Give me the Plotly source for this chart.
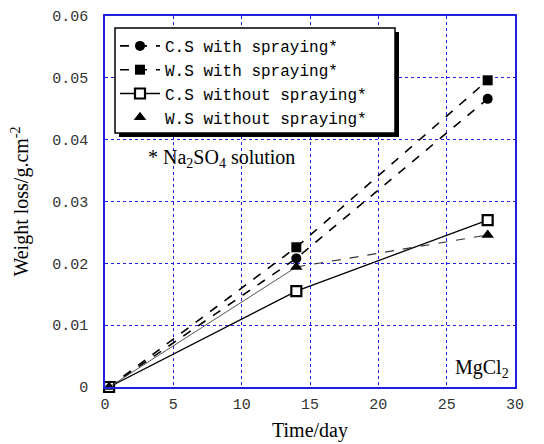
import plotly.graph_objects as go

# Exposure time (days) and weight loss (g/cm^2) for each specimen group
days = [0.3, 14, 28]
cs_spray = [0.0, 0.0208, 0.0466]
ws_spray = [0.0, 0.0226, 0.0496]
cs_nospray = [0.0, 0.0155, 0.0270]
ws_nospray = [0.0, 0.0194, 0.0246]

names = ["C.S with spraying*", "W.S with spraying*",
         "C.S without spraying*", "W.S without spraying*"]

x_ticks = [0, 5, 10, 15, 20, 25, 30]
y_ticks = [0, 0.01, 0.02, 0.03, 0.04, 0.05, 0.06]
y_tick_text = ["0", "0.01", "0.02", "0.03", "0.04", "0.05", "0.06"]

mono = "Liberation Mono"
serif = "Liberation Serif, Times New Roman, serif"
blue = "#2020e0"

W, H = 544, 444
ML, MR, MT, MB = 105, 29, 16, 57
PW, PH = W - ML - MR, H - MT - MB


def px_to_paper(px, py):
    return (px - ML) / PW, (H - MB - py) / PH


fig = go.Figure()

fig.add_trace(go.Scatter(
    x=days, y=cs_spray, name=names[0], mode="lines+markers",
    line=dict(color="black", width=1.6, dash="dash"),
    marker=dict(symbol="circle", size=10, color="black"),
    cliponaxis=False))
fig.add_trace(go.Scatter(
    x=days, y=ws_spray, name=names[1], mode="lines+markers",
    line=dict(color="black", width=1.6, dash="dash"),
    marker=dict(symbol="square", size=10, color="black"),
    cliponaxis=False))
fig.add_trace(go.Scatter(
    x=days, y=cs_nospray, name=names[2], mode="lines+markers",
    line=dict(color="black", width=1.3),
    marker=dict(symbol="square", size=10, color="white",
                line=dict(color="black", width=2.2)),
    cliponaxis=False))

# W.S without spraying: thin solid first segment, dashed second segment
fig.add_trace(go.Scatter(
    x=days[:2], y=ws_nospray[:2], mode="lines", showlegend=False,
    line=dict(color="#555", width=1)))
fig.add_trace(go.Scatter(
    x=days[1:], y=ws_nospray[1:], mode="lines", showlegend=False,
    line=dict(color="#333", width=1.1, dash="dash")))
fig.add_trace(go.Scatter(
    x=days, y=ws_nospray, name=names[3], mode="markers",
    marker=dict(symbol="triangle-up", size=11, color="black"),
    cliponaxis=False))

axis_common = dict(
    showline=True, mirror=True, linecolor=blue, linewidth=1.5,
    showgrid=True, gridcolor=blue, griddash="dot", gridwidth=1,
    zeroline=False, ticks="", automargin=False,
    tickfont=dict(family=mono, size=15, color="#333"),
)

fig.update_xaxes(
    range=[0, 30], tickvals=x_ticks, ticklabelstandoff=2,
    title=dict(text="Time/day", font=dict(family=serif, size=20, color="black"),
               standoff=10),
    **axis_common)
fig.update_yaxes(
    range=[0, 0.06], tickvals=y_ticks, ticktext=y_tick_text,
    ticklabelstandoff=12,
    title=dict(text="Weight loss/g.cm<sup>-2</sup>",
               font=dict(family=serif, size=20, color="black"), standoff=18),
    **axis_common)

fig.add_annotation(
    x=0.1, y=0.615, xref="paper", yref="paper", xanchor="left", yanchor="middle",
    text="* Na<sub>2</sub>SO<sub>4</sub> solution", showarrow=False,
    font=dict(family=serif, size=20, color="black"))
fig.add_annotation(
    x=0.99, y=0.05, xref="paper", yref="paper", xanchor="right", yanchor="middle",
    text="MgCl<sub>2</sub>", showarrow=False,
    font=dict(family=serif, size=20, color="black"))

# Legend frame with a drop shadow
sx0, sy0 = px_to_paper(119, 137)
sx1, sy1 = px_to_paper(399, 32)
fig.add_shape(type="rect", xref="paper", yref="paper",
              x0=sx0, y0=sy0, x1=sx1, y1=sy1,
              fillcolor="black", line=dict(width=0), layer="above")
fx0, fy0 = px_to_paper(115, 133)
fx1, fy1 = px_to_paper(395, 28)
fig.add_shape(type="rect", xref="paper", yref="paper",
              x0=fx0, y0=fy0, x1=fx1, y1=fy1,
              fillcolor="white", line=dict(color="black", width=1.5),
              layer="above")

lx, ly = px_to_paper(115, 29)
fig.update_layout(
    width=W, height=H,
    margin=dict(l=ML, r=MR, t=MT, b=MB),
    paper_bgcolor="white", plot_bgcolor="white",
    showlegend=True,
    legend=dict(
        x=lx, y=ly, xanchor="left", yanchor="top",
        bgcolor="rgba(0,0,0,0)", borderwidth=0,
        font=dict(family=mono, size=16, color="black"),
        tracegroupgap=0, itemwidth=40,
    ),
)

fig.write_html("out.html")
